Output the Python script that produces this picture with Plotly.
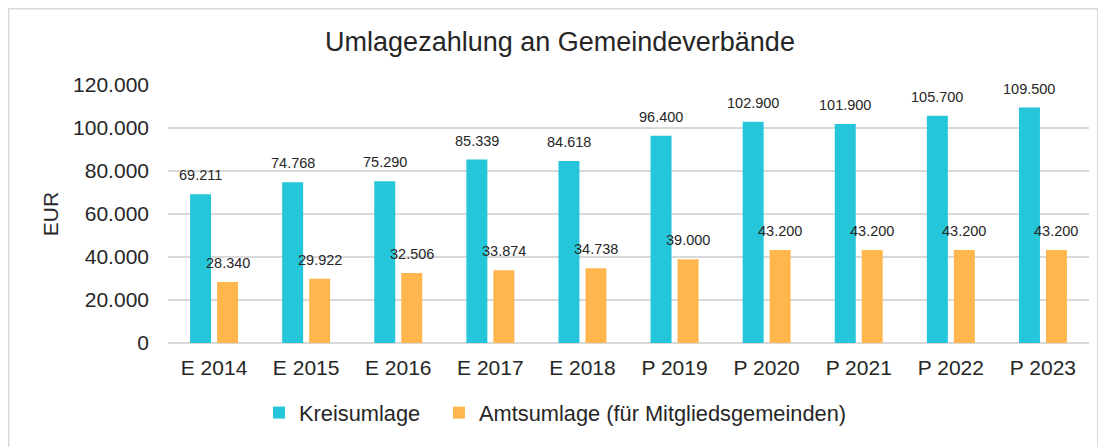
import plotly.graph_objects as go

categories = ["E 2014", "E 2015", "E 2016", "E 2017", "E 2018",
              "P 2019", "P 2020", "P 2021", "P 2022", "P 2023"]
kreisumlage = [69211, 74768, 75290, 85339, 84618, 96400, 102900, 101900, 105700, 109500]
amtsumlage = [28340, 29922, 32506, 33874, 34738, 39000, 43200, 43200, 43200, 43200]
series_names = ["Kreisumlage", "Amtsumlage (für Mitgliedsgemeinden)"]
y_ticks = [0, 20000, 40000, 60000, 80000, 100000, 120000]

CYAN = "#26C6DA"
ORANGE = "#FFB74D"
TEXT = "#262626"
GRID = "#d9d9d9"
FONT = "Liberation Sans, Arial, sans-serif"

# page body has an 8px default margin -> figure drawn at (8, 8)
W, H = 1098, 439
L, T, B = 160, 77, 104
R = W - 1081
PH = H - T - B
PW = W - L - R


def fmt(v):
    return f"{v:,}".replace(",", ".")


fig = go.Figure()
fig.add_trace(go.Bar(x=categories, y=kreisumlage, name=series_names[0], legend="legend",
                     marker=dict(color=CYAN, line=dict(width=0))))
fig.add_trace(go.Bar(x=categories, y=amtsumlage, name=series_names[1], legend="legend2",
                     marker=dict(color=ORANGE, line=dict(width=0))))

annotations = []
for cat, v in zip(categories, kreisumlage):
    annotations.append(dict(x=cat, y=v, xref="x", yref="y", text=fmt(v),
                            showarrow=False, xshift=-13.5, yshift=19,
                            yanchor="middle", font=dict(size=14.5, color=TEXT, family=FONT)))
for cat, v in zip(categories, amtsumlage):
    annotations.append(dict(x=cat, y=v, xref="x", yref="y", text=fmt(v),
                            showarrow=False, xshift=13.5, yshift=19,
                            yanchor="middle", font=dict(size=14.5, color=TEXT, family=FONT)))

legend_common = dict(orientation="h", xanchor="left", y=-0.271, yanchor="middle",
                     font=dict(size=21.8, color=TEXT, family=FONT), itemsizing="constant",
                     bgcolor="rgba(0,0,0,0)")

fig.update_layout(
    width=W, height=H,
    margin=dict(l=L, r=R, t=T, b=B, autoexpand=False),
    paper_bgcolor="white", plot_bgcolor="white",
    separators=",.",
    font=dict(family=FONT, color=TEXT, size=21),
    title=dict(text="Umlagezahlung an Gemeindeverbände", x=552 / W, xanchor="center",
               y=1 - 34 / H, yanchor="middle", yref="container",
               font=dict(size=27, color=TEXT, family=FONT)),
    barmode="group", bargap=0.414, bargroupgap=0.222,
    showlegend=True,
    legend=dict(x=(251 - L) / PW, **legend_common),
    legend2=dict(x=(431 - L) / PW, **legend_common),
    annotations=annotations,
    shapes=[dict(type="rect", xref="paper", yref="paper",
                 x0=(0.5 - L) / PW, x1=(1090 - L) / PW,
                 y0=-0.6, y1=(H - B - 0.5) / PH,
                 line=dict(color=GRID, width=2), fillcolor="rgba(0,0,0,0)", layer="below")],
)

fig.update_yaxes(range=[0, 120000], tickvals=y_ticks, tickformat=",d",
                 showgrid=True, gridcolor=GRID, gridwidth=1.5,
                 zeroline=True, zerolinecolor=GRID, zerolinewidth=1.5,
                 showline=False, ticks="", ticklabelstandoff=18,
                 tickfont=dict(size=21, color=TEXT, family=FONT),
                 title=dict(text="EUR", standoff=8, font=dict(size=21, color=TEXT, family=FONT)))
fig.update_xaxes(showgrid=False, showline=False, ticks="", ticklabelstandoff=10,
                 tickfont=dict(size=21, color=TEXT, family=FONT))

fig.write_html("out.html")
